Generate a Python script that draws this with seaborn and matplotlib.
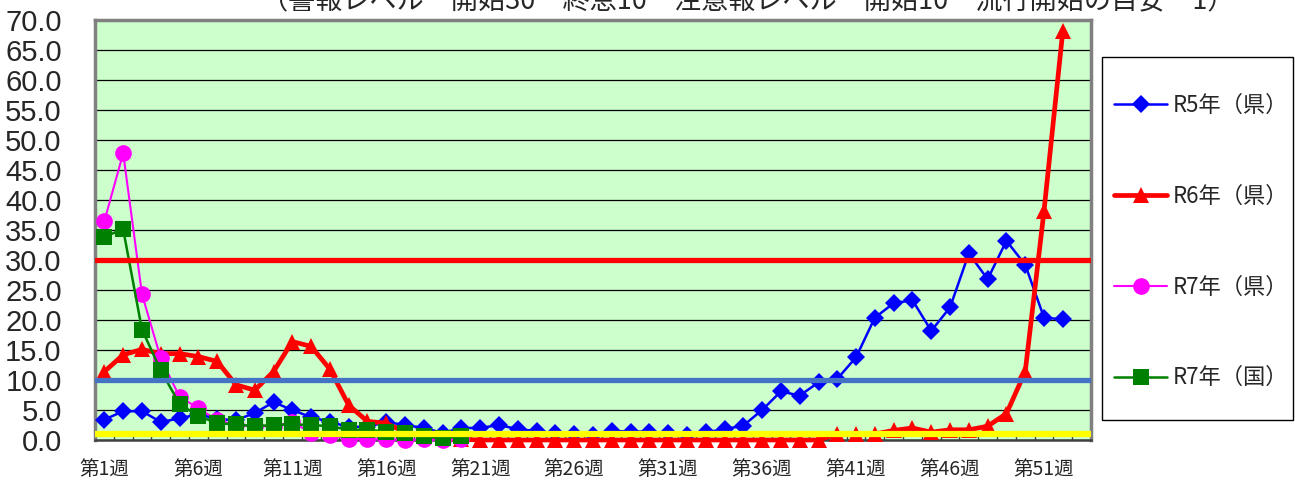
import matplotlib
matplotlib.use("Agg")
import matplotlib.pyplot as plt
import matplotlib.patches as mpatches
import numpy as np
import seaborn as sns

# データ（週ごとの定点当たり報告数）
r5_pref = [3.4, 4.8, 4.8, 3.0, 3.6, 4.3, 3.5, 3.3, 4.5, 6.3,
           5.0, 3.8, 3.0, 2.2, 2.2, 3.0, 2.5, 2.0, 1.2, 2.0,
           2.0, 2.5, 1.8, 1.5, 1.1, 1.0, 0.8, 1.5, 1.4, 1.4,
           1.1, 0.8, 1.3, 1.8, 2.4, 5.0, 8.1, 7.4, 9.6, 10.2,
           13.8, 20.4, 22.8, 23.3, 18.2, 22.1, 31.1, 26.8, 33.2, 29.2,
           20.4, 20.1]
r6_pref = [11.4, 14.2, 15.1, 14.4, 14.4, 13.9, 13.1, 9.2, 8.3, 11.4,
           16.4, 15.6, 11.8, 5.8, 3.1, 2.8, 1.3, 0.6, 0.3, 0.1,
           0.0, 0.0, 0.0, 0.0, 0.0, 0.0, 0.0, 0.0, 0.0, 0.0,
           0.0, 0.0, 0.0, 0.0, 0.0, 0.0, 0.0, 0.0, 0.0, 1.0,
           1.0, 1.0, 1.6, 2.0, 1.3, 1.7, 1.7, 2.3, 4.4, 11.4,
           38.2, 68.2]
r7_pref = [36.5, 47.8, 24.3, 13.6, 7.2, 5.3, 3.3, 2.5, 2.3, 2.3,
           3.0, 1.2, 0.8, 0.2, 0.1, 0.1, 0.0, 0.1, 0.0, 0.2]
r7_nat = [33.9, 35.1, 18.4, 11.6, 6.0, 4.0, 2.8, 2.6, 2.3, 2.5,
          2.6, 2.5, 2.3, 1.7, 1.7, 1.4, 1.1, 0.6, 0.3, 0.6]

n_weeks = 53
label_weeks = [1, 6, 11, 16, 21, 26, 31, 36, 41, 46, 51]
week_labels = [f"第{w}週" for w in label_weeks]

alarm_level = 30      # 警報レベル 開始
warning_level = 10    # 注意報レベル 開始 / 警報 終息
epidemic_level = 1    # 流行開始の目安

title = "（警報レベル　開始30　終息10　注意報レベル　開始10　流行開始の目安　1）"

jp = ["Noto Sans CJK JP", "DejaVu Sans"]
num = ["Liberation Sans Narrow", "Liberation Sans", "DejaVu Sans"]

sns.set_style("white")
plt.rcParams["font.family"] = jp

fig = plt.figure(figsize=(12.95, 4.82), dpi=100)
ax = fig.add_axes([95 / 1295, 42 / 482, 996 / 1295, 420 / 482])
ax.set_facecolor("#CCFFCC")

series = [
    (r5_pref, "R5年（県）", "#0000FF", "D", 1.8, 9),
    (r6_pref, "R6年（県）", "#FF0000", "^", 3.4, 11),
    (r7_pref, "R7年（県）", "#FF00FF", "o", 1.5, 12),
    (r7_nat, "R7年（国）", "#008000", "s", 1.8, 11),
]
for vals, name, col, mk, lw, ms in series:
    weeks = np.arange(1, len(vals) + 1)
    sns.lineplot(x=weeks, y=vals, ax=ax, color=col, marker=mk, linewidth=lw,
                 markersize=ms, markeredgecolor=col, markeredgewidth=0,
                 label=name, clip_on=False, zorder=3)

# 基準線
ax.axhline(alarm_level, color="#FF0000", linewidth=3.8, zorder=6)
ax.axhline(warning_level, color="#4472C4", linewidth=3.8, zorder=6)
ax.axhline(epidemic_level, color="#FFFF00", linewidth=4.5, zorder=6)

ax.set_xlim(0.5, n_weeks + 0.5)
ax.set_ylim(0, 70)
ax.set_yticks(np.arange(0, 71, 5))
ax.set_yticklabels([f"{v:.1f}" for v in np.arange(0, 71, 5)],
                   fontfamily=num, fontsize=21)
ax.yaxis.grid(True, color="black", linewidth=0.9)
ax.set_axisbelow(True)
ax.tick_params(axis="y", length=0, pad=24)

ax.set_xticks(label_weeks)
ax.set_xticklabels(week_labels, fontfamily=jp, fontsize=14)
ax.set_xticks(np.arange(1.5, n_weeks, 1), minor=True)
ax.tick_params(axis="x", which="major", length=0, pad=14)
ax.tick_params(axis="x", which="minor", direction="in", length=5,
               width=1, color="#404040", bottom=True)
ax.set_xlabel("")
ax.set_ylabel("")

for side in ["left", "top", "right"]:
    ax.spines[side].set_color("#808080")
    ax.spines[side].set_linewidth(2.5)
ax.spines["bottom"].set_color("#404040")
ax.spines["bottom"].set_linewidth(1.8)

# 凡例
handles, labels = ax.get_legend_handles_labels()
ax.get_legend().remove()
fig.patches.append(mpatches.Rectangle((1102 / 1295, 62 / 482), 191 / 1295, 363 / 482,
                                      transform=fig.transFigure, facecolor="white",
                                      edgecolor="black", linewidth=1))
fig.legend(handles, labels, loc="upper left",
           bbox_to_anchor=(1114 / 1295, 1 - 94 / 482), frameon=False,
           prop={"family": jp, "size": 16}, labelspacing=3.05,
           handlelength=2.4, handletextpad=0.25, borderpad=0, borderaxespad=0)

fig.text(748 / 1295, 1 - 1 / 482, title, ha="center", va="center",
         fontsize=19.5, fontfamily=jp)

fig.savefig("out.png", dpi=100)
